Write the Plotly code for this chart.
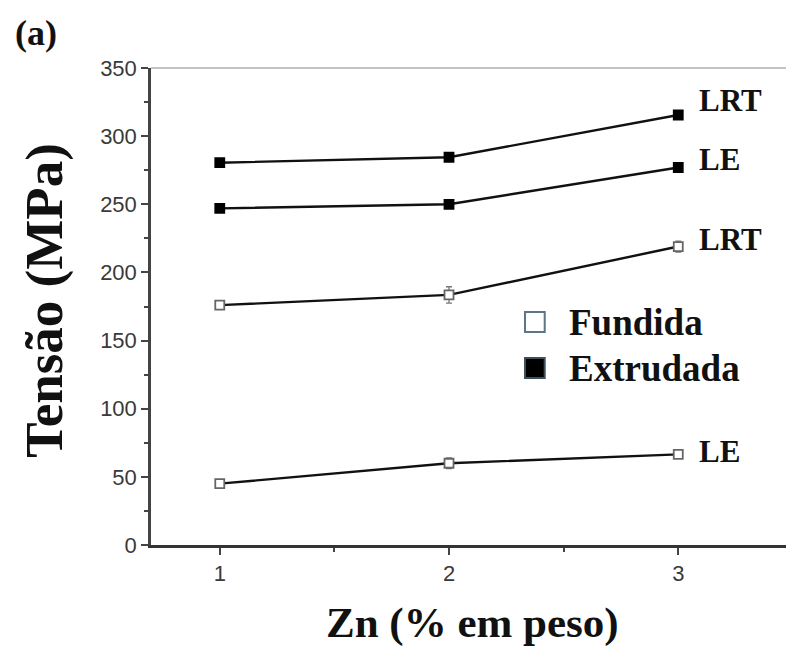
import plotly.graph_objects as go

# Zn content (wt %)
zn = [1, 2, 3]

# Tensile data (MPa)
extr_lrt = [280.5, 284.5, 315.5]
extr_le = [247, 250, 277]
fund_lrt = [176, 183.5, 219]
fund_le = [45, 60, 66.5]

# Standard deviations
extr_lrt_err = [2, 2, 3]
extr_le_err = [2, 2, 2]
fund_lrt_err = [2, 6, 4]
fund_le_err = [3, 4, 2]

y_ticks = [0, 50, 100, 150, 200, 250, 300, 350]
x_ticks = [1, 2, 3]

serif = "Liberation Serif, Times New Roman, serif"
sans = "Liberation Sans, Arial, sans-serif"

fig = go.Figure()


def add_series(y, err, filled):
    fig.add_trace(go.Scatter(
        x=zn, y=y,
        mode="lines+markers",
        line=dict(color="#111", width=2.4),
        marker=dict(
            symbol="square",
            size=9,
            color="#000" if filled else "#fff",
            line=dict(color="#000" if filled else "#666", width=1.8),
        ),
        error_y=dict(type="data", array=err, visible=True,
                     color="#777", thickness=1.3, width=3),
        showlegend=False,
        cliponaxis=False,
    ))


add_series(extr_lrt, extr_lrt_err, True)
add_series(extr_le, extr_le_err, True)
add_series(fund_lrt, fund_lrt_err, False)
add_series(fund_le, fund_le_err, False)

# Curve labels next to the last point of each series
labels = [("LRT", extr_lrt[-1], 15), ("LE", extr_le[-1], 8),
          ("LRT", fund_lrt[-1], 7), ("LE", fund_le[-1], 3)]
for text, yv, dy in labels:
    fig.add_annotation(
        x=zn[-1], y=yv, xref="x", yref="y",
        text=f"<b>{text}</b>", showarrow=False,
        xanchor="left", yanchor="middle",
        xshift=19, yshift=dy,
        font=dict(family=serif, size=31, color="#111"),
    )

# Legend drawn as squares with bold labels
legend_items = [("Fundida", "#fff", "#5b7684", 0.4675), ("Extrudada", "#000", "#3c4f5c", 0.371)]
for name, fill, edge, yp in legend_items:
    fig.add_shape(type="rect", xref="paper", yref="paper",
                  x0=0.589, x1=0.620, y0=yp - 0.021, y1=yp + 0.021,
                  fillcolor=fill, line=dict(color=edge, width=2))
    fig.add_annotation(x=0.655, y=yp, xref="paper", yref="paper",
                       text=f"<b>{name}</b>", showarrow=False,
                       xanchor="left", yanchor="middle",
                       font=dict(family=serif, size=37, color="#111"))

# Light frame line along the top of the plot area
fig.add_shape(type="line", xref="paper", yref="paper",
              x0=0, x1=1, y0=1, y1=1,
              line=dict(color="#c4c4c4", width=2))

# Panel letter
fig.add_annotation(x=-0.181, y=1.073, xref="paper", yref="paper",
                   text="<b>(a)</b>", showarrow=False,
                   xanchor="center", yanchor="middle",
                   font=dict(family=serif, size=36, color="#111"))

# Axis titles
fig.add_annotation(x=-0.167, y=0.514, xref="paper", yref="paper",
                   text="<b>Tensão (MPa)</b>", showarrow=False,
                   textangle=-90, xanchor="center", yanchor="middle",
                   font=dict(family=serif, size=53, color="#111"))
fig.add_annotation(x=0.507, y=-0.163, xref="paper", yref="paper",
                   text="<b>Zn (% em peso)</b>", showarrow=False,
                   xanchor="center", yanchor="middle",
                   font=dict(family=serif, size=43, color="#111"))

fig.update_layout(
    width=786, height=651,
    margin=dict(l=151, r=0, t=68, b=106),
    paper_bgcolor="#fff",
    plot_bgcolor="#fff",
    xaxis=dict(
        range=[0.7, 3.47],
        tickvals=x_ticks,
        ticktext=[str(v) for v in x_ticks],
        ticks="outside", ticklen=7, tickwidth=2, tickcolor="#444",
        minor=dict(tickvals=[1.5, 2.5], ticks="outside", ticklen=4,
                   tickwidth=2, tickcolor="#444"),
        showline=True, linecolor="#333", linewidth=2.5,
        showgrid=False, zeroline=False,
        tickfont=dict(family=sans, size=22, color="#3a3a3a"),
    ),
    yaxis=dict(
        range=[0, 350],
        tickvals=y_ticks,
        ticktext=[str(v) for v in y_ticks],
        ticks="outside", ticklen=7, tickwidth=2, tickcolor="#444",
        minor=dict(tickvals=[25, 75, 125, 175, 225, 275, 325],
                   ticks="outside", ticklen=4, tickwidth=2,
                   tickcolor="#444"),
        showline=True, linecolor="#444", linewidth=2.5,
        showgrid=False, zeroline=False,
        tickfont=dict(family=sans, size=22, color="#3a3a3a"),
    ),
)

fig.write_html("out.html")
